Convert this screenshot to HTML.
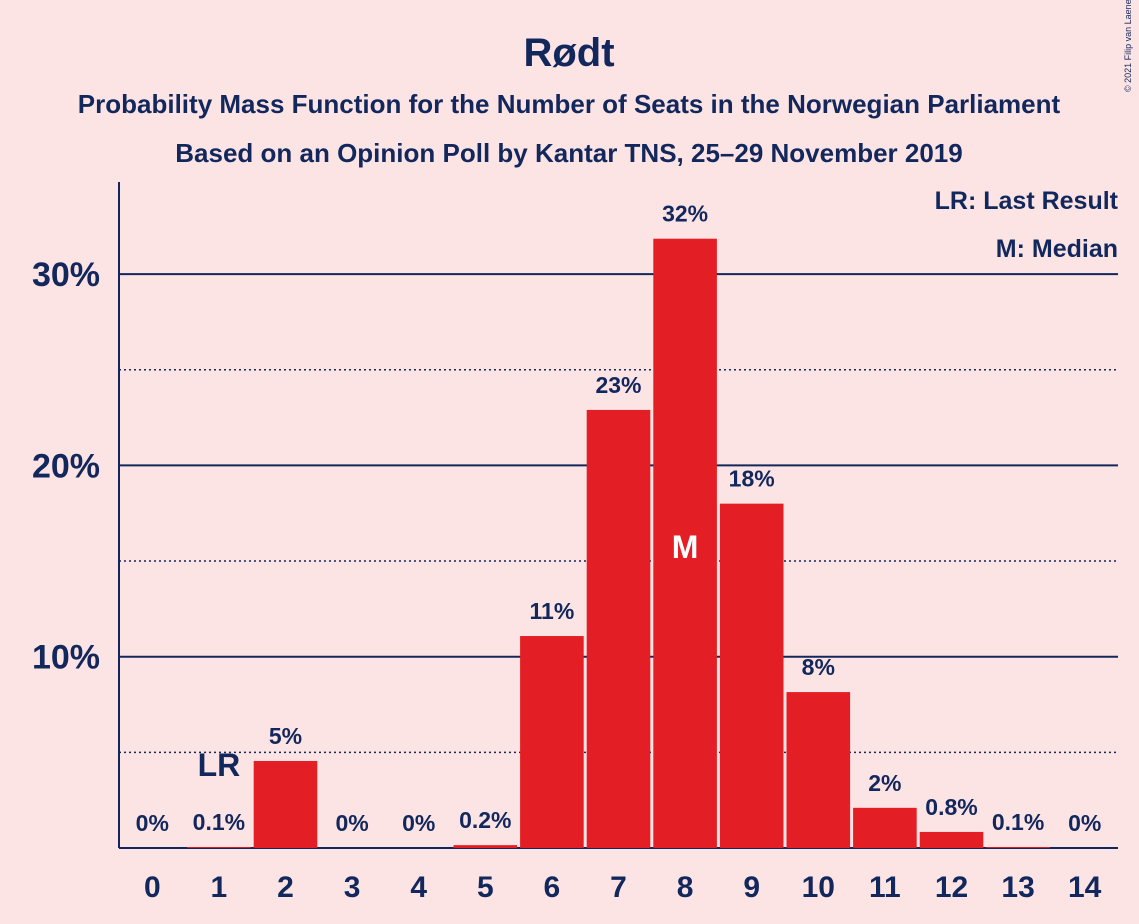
<!DOCTYPE html>
<html><head><meta charset="utf-8"><style>
body{margin:0;background:#fde4e4;}
svg{display:block;font-family:"Liberation Sans",sans-serif;font-weight:bold;}
</style></head><body>
<svg id="chart" width="1139" height="924">
<rect width="1139" height="924" fill="#fde4e4"/>
<text x="569" y="66" text-anchor="middle" font-size="40" fill="#12275c">Rødt</text>
<text x="569" y="113" text-anchor="middle" font-size="26" fill="#12275c">Probability Mass Function for the Number of Seats in the Norwegian Parliament</text>
<text x="569" y="162" text-anchor="middle" font-size="26" fill="#12275c">Based on an Opinion Poll by Kantar TNS, 25–29 November 2019</text>
<text x="1131" y="92" font-size="9" font-weight="normal" fill="#12275c" transform="rotate(-90 1131 92)">© 2021 Filip van Laenen</text>
<g id="grid"></g>
<g id="bars"></g>
<g id="labels"></g>
<text x="1118" y="209" text-anchor="end" font-size="25" fill="#12275c">LR: Last Result</text>
<text x="1118" y="257" text-anchor="end" font-size="25" fill="#12275c">M: Median</text>
</svg>
<script>
const seats=[0,1,2,3,4,5,6,7,8,9,10,11,12,13,14];
const probs=[0,0.05,4.55,0,0,0.15,11.08,22.9,31.85,18.0,8.15,2.1,0.84,0.05,0];
const valueLabels=["0%","0.1%","5%","0%","0%","0.2%","11%","23%","32%","18%","8%","2%","0.8%","0.1%","0%"];
const yTicks=[10,20,30];
const yMinor=[5,15,25];
const lastResult=1, median=8;
const NS="http://www.w3.org/2000/svg";
const x0=119,x1=1118,y0=848,pxPer=19.13;
const step=(x1-x0)/seats.length;
const xc=i=>x0+step*(i+0.5);
const y=v=>y0-v*pxPer;
function mk(tag,attrs,parent,text){const e=document.createElementNS(NS,tag);for(const k in attrs)e.setAttribute(k,attrs[k]);if(text!=null)e.textContent=text;parent.appendChild(e);return e;}
const grid=document.getElementById('grid'),bars=document.getElementById('bars'),labels=document.getElementById('labels');
yMinor.forEach(t=>{const l=mk('line',{x1:x0,x2:x1,y1:y(t),y2:y(t),stroke:'#12275c','stroke-width':1.5,'stroke-dasharray':'2,3'},grid);

});
yTicks.forEach(t=>{const l=mk('line',{x1:x0,x2:x1,y1:y(t),y2:y(t),stroke:'#12275c','stroke-width':2},grid);


const tx=mk('text',{x:100,y:y(t)+12,'text-anchor':'end','font-size':34,fill:'#12275c'},grid,t+'%');

});
const ax=mk('line',{x1:x0,x2:x0,y1:182,y2:y0,stroke:'#12275c','stroke-width':2},grid);


const bx=mk('line',{x1:x0,x2:x1,y1:y0,y2:y0,stroke:'#12275c','stroke-width':2},grid);


seats.forEach((s,i)=>{
 const v=probs[i];
 if(v>0){const r=mk('rect',{x:xc(i)-step/2+1.5,y:y(v),width:step-3,height:y0-y(v),fill:'#e31e24'},bars);
 
 }
 const ly=Math.min(824,y(v)-25);
 const t=mk('text',{x:xc(i),y:ly+8,'text-anchor':'middle','font-size':23,fill:'#12275c'},labels,valueLabels[i]);
 
 
 const xt=mk('text',{x:xc(i),y:897,'text-anchor':'middle','font-size':30,fill:'#12275c'},labels,String(s));
 
 
});
const lr=mk('text',{x:xc(lastResult),y:776,'text-anchor':'middle','font-size':32,fill:'#12275c'},labels,'LR');


const m=mk('text',{x:xc(median),y:558,'text-anchor':'middle','font-size':32,fill:'#ffffff'},labels,'M');


</script>
</body></html>
